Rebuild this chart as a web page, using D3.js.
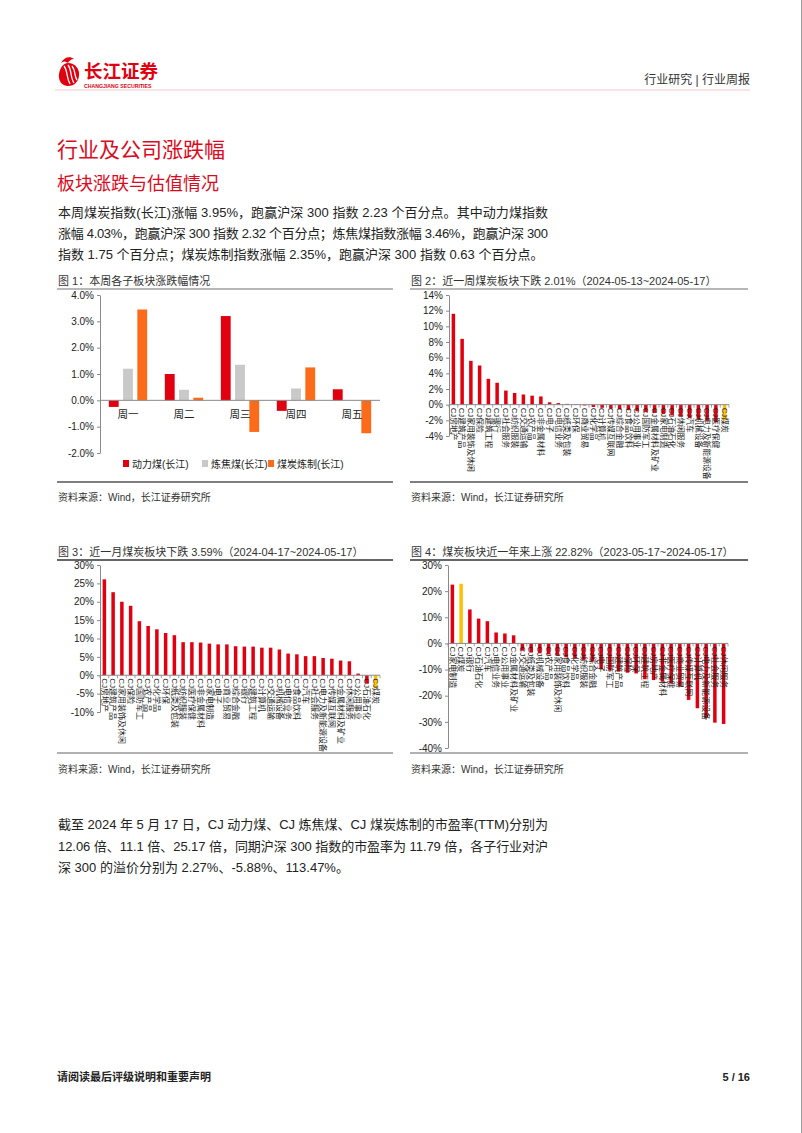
<!DOCTYPE html>
<html><head><meta charset="utf-8">
<script src="https://cdn.jsdelivr.net/npm/d3@7"></script>
<style>
html,body{margin:0;padding:0;background:#fff;}
svg text{font-family:"Liberation Sans",Arial,"Noto Sans CJK SC",sans-serif;}
</style></head><body>
<svg id="page" width="802" height="1133"></svg>
<script>
// ---------------- DATA ----------------
const days = ["周一","周二","周三","周四","周五"];
const seriesNames = ["动力煤(长江)","炼焦煤(长江)","煤炭炼制(长江)"];
const thermalCoal = [-0.25, 1.0, 3.2, -0.4, 0.42];
const cokingCoal = [1.2, 0.4, 1.35, 0.45, 0.0];
const coalRefining = [3.45, 0.1, -1.2, 1.25, -1.25];
const ticks1 = [-2, -1, 0, 1, 2, 3, 4];

const cats2 = ["CJ房地产","CJ建筑产品","CJ家用装饰及休闲","CJ保险","CJ建筑工程","CJ银行","CJ社会服务","CJ纺织服装","CJ交通运输","CJ农产品","CJ非金属材料","CJ电子","CJ电信业务","CJ纸类及包装","CJ环保","CJ商业贸易","CJ化学品","CJ计算机","CJ传媒互联网","CJ综合金融","CJ食品饮料","CJ公用事业","CJ国防军工","CJ金属材料及矿业","CJ家电制造","CJ石油石化","CJ休闲服务","CJ汽车","CJ机械设备","CJ电力及新能源设备","CJ医疗保健","CJ煤炭"];
const vals2 = [11.6, 8.4, 5.6, 5.0, 3.3, 2.8, 1.8, 1.5, 1.3, 1.15, 1.05, 0.3, 0.2, 0.1, 0.05, -0.1, -0.3, -0.4, -0.5, -0.6, -0.7, -0.85, -0.95, -1.05, -1.2, -1.35, -1.5, -1.7, -1.9, -2.05, -2.25, -2.01];
const ticks2 = [-4, -2, 0, 2, 4, 6, 8, 10, 12, 14];

const cats3 = ["CJ房地产","CJ建筑产品","CJ家用装饰及休闲","CJ保险","CJ国防军工","CJ农产品","CJ化学品","CJ环保","CJ纸类及包装","CJ纺织服装","CJ医疗保健","CJ非金属材料","CJ家电制造","CJ电子","CJ商业贸易","CJ综合金融","CJ银行","CJ建筑工程","CJ计算机","CJ交通运输","CJ机械设备","CJ电信业务","CJ食品饮料","CJ汽车","CJ社会服务","CJ电力及新能源设备","CJ传媒互联网","CJ金属材料及矿业","CJ休闲服务","CJ公用事业","CJ石油石化","CJ煤炭"];
const vals3 = [26.1, 22.6, 20.0, 18.9, 14.7, 13.4, 12.5, 11.5, 10.9, 9.0, 9.0, 8.9, 8.6, 8.4, 8.4, 7.9, 7.8, 7.8, 7.5, 7.5, 7.0, 5.9, 5.7, 5.2, 5.2, 4.7, 4.5, 4.0, 3.8, 0.45, -2.3, -3.59];
const ticks3 = [-10, -5, 0, 5, 10, 15, 20, 25, 30];

const cats4 = ["CJ家电制造","CJ煤炭","CJ银行","CJ石油石化","CJ汽车","CJ电信业务","CJ公用事业","CJ金属材料及矿业","CJ交通运输","CJ纸类及包装","CJ机械设备","CJ农产品","CJ家用装饰及休闲","CJ食品饮料","CJ化学品","CJ纺织服装","CJ综合金融","CJ电子","CJ国防军工","CJ建筑产品","CJ保险","CJ环保","CJ建筑工程","CJ房地产","CJ非金属材料","CJ医疗保健","CJ商业贸易","CJ传媒互联网","CJ计算机","CJ电力及新能源设备","CJ社会服务","CJ休闲服务"];
const vals4 = [22.5, 22.82, 13.0, 9.5, 8.5, 4.2, 3.8, 3.1, -2.8, -3.5, -3.8, -4.2, -4.6, -5.3, -5.8, -6.3, -6.9, -9.9, -10.4, -10.8, -11.2, -11.5, -13.7, -14.0, -14.6, -15.3, -16.5, -21.6, -24.8, -28.5, -30.3, -30.8];
const ticks4 = [-40, -30, -20, -10, 0, 10, 20, 30];

const highlightCat = "CJ煤炭";

// ---------------- STYLE ----------------
const RED = "#e1000f", GRAY = "#c9c9c9", ORANGE = "#fb6b1a", GOLD = "#ffc000";
const TITLE_RED = "#dc0a1e";
const svg = d3.select("#page");

function txt(x, y, s, o = {}) {
  const t = svg.append("text").attr("x", x).attr("y", y).text(s)
    .attr("font-size", o.size || 13).attr("fill", o.fill || "#222");
  if (o.weight) t.attr("font-weight", o.weight);
  if (o.anchor) t.attr("text-anchor", o.anchor);
  if (o.len) t.attr("textLength", o.len).attr("lengthAdjust", "spacing");
  if (o.family) t.style("font-family", o.family);
  return t;
}
function line(x1, y1, x2, y2, c, w) {
  svg.append("line").attr("x1", x1).attr("y1", y1).attr("x2", x2).attr("y2", y2)
    .attr("stroke", c).attr("stroke-width", w);
}

// ---------------- HEADER ----------------
const logo = svg.append("g").attr("transform", "translate(58,57)");
logo.append("path").attr("d", "M10,6 C17,6 22,12 21,19 C20,26 15,29 10,29 C4,29 0,24 1,17 C2,11 5,6 10,6 Z").attr("fill", RED);
logo.append("path").attr("d", "M6,9 C10,14 8,20 12,27 M10,8 C14,13 12,20 16,26 M14,9 C18,14 16,19 19,23").attr("stroke", "#fff").attr("stroke-width", 1.3).attr("fill", "none");
logo.append("path").attr("d", "M3,6 C6,0 12,-1 16,2 C13,2 11,4 10,6 C7,4 5,4 3,6 Z").attr("fill", RED);
txt(84, 78, "长江证券", {size: 18.5, fill: RED, weight: 700, family: "'Noto Sans CJK SC',sans-serif"});
txt(84, 87.5, "CHANGJIANG SECURITIES", {size: 5.2, fill: RED, weight: 700});
txt(750, 84, "行业研究 | 行业周报", {size: 12, fill: "#333", anchor: "end"});
line(55, 90, 750, 90, "#f4c9d2", 1.2);
line(801.5, 0, 801.5, 1133, "#9a9a9a", 1);

// ---------------- TITLES & TEXT ----------------
txt(57, 157, "行业及公司涨跌幅", {size: 21, fill: TITLE_RED, family: "'Noto Sans CJK SC',sans-serif"});
txt(57, 190, "板块涨跌与估值情况", {size: 18, fill: TITLE_RED, family: "'Noto Sans CJK SC',sans-serif"});
txt(58, 217, "本周煤炭指数(长江)涨幅 3.95%，跑赢沪深 300 指数 2.23 个百分点。其中动力煤指数", {size: 13, len: 490});
txt(58, 238, "涨幅 4.03%，跑赢沪深 300 指数 2.32 个百分点；炼焦煤指数涨幅 3.46%，跑赢沪深 300", {size: 13, len: 490});
txt(58, 259, "指数 1.75 个百分点；煤炭炼制指数涨幅 2.35%，跑赢沪深 300 指数 0.63 个百分点。", {size: 13});

txt(58, 829, "截至 2024 年 5 月 17 日，CJ 动力煤、CJ 炼焦煤、CJ 煤炭炼制的市盈率(TTM)分别为", {size: 13, len: 490});
txt(58, 851, "12.06 倍、11.1 倍、25.17 倍，同期沪深 300 指数的市盈率为 11.79 倍，各子行业对沪", {size: 13, len: 490});
txt(58, 872, "深 300 的溢价分别为 2.27%、-5.88%、113.47%。", {size: 13});

txt(57, 1081, "请阅读最后评级说明和重要声明", {size: 11, fill: "#222", weight: 700});
txt(750, 1081, "5 / 16", {size: 11, fill: "#222", weight: 700, anchor: "end"});

// chart frames
txt(58, 285, "图 1：本周各子板块涨跌幅情况", {size: 11, fill: "#333"});
line(57, 289, 393, 289, "#a0a0a0", 1.5);
line(57, 482, 393, 482, "#555", 1.5);
txt(58, 501, "资料来源：Wind，长江证券研究所", {size: 10, fill: "#333"});

txt(411, 285, "图 2：近一周煤炭板块下跌 2.01%（2024-05-13~2024-05-17）", {size: 11, fill: "#333"});
line(410, 289, 748, 289, "#a0a0a0", 1.5);
line(410, 482, 748, 482, "#555", 1.5);
txt(411, 501, "资料来源：Wind，长江证券研究所", {size: 10, fill: "#333"});

txt(58, 556, "图 3：近一月煤炭板块下跌 3.59%（2024-04-17~2024-05-17）", {size: 11, fill: "#333"});
line(57, 560, 393, 560, "#333", 1.5);
line(57, 753, 393, 753, "#999", 1.5);
txt(58, 773, "资料来源：Wind，长江证券研究所", {size: 10, fill: "#333"});

txt(411, 556, "图 4：煤炭板块近一年来上涨 22.82%（2023-05-17~2024-05-17）", {size: 11, fill: "#333"});
line(410, 560, 748, 560, "#333", 1.5);
line(410, 753, 748, 753, "#999", 1.5);
txt(411, 773, "资料来源：Wind，长江证券研究所", {size: 10, fill: "#333"});

// ---------------- AXIS HELPER ----------------
function yAxis(g, y, x0, ticks, fmt) {
  const ax = g.append("g").attr("transform", `translate(${x0},0)`)
    .call(d3.axisLeft(y).tickValues(ticks).tickFormat(fmt).tickSize(3).tickSizeOuter(0));
  ax.select(".domain").attr("stroke", "#8a8a8a");
  ax.selectAll(".tick line").attr("stroke", "#8a8a8a");
  ax.selectAll(".tick text").attr("font-size", 10).attr("fill", "#222")
    .style("font-family", "'Liberation Sans',Arial,sans-serif").attr("x", -6);
}

// ---------------- CHART 1 ----------------
(function () {
  const g = svg.append("g");
  const y = d3.scaleLinear().domain([-2, 4]).range([453, 295]);
  const x0 = d3.scaleBand().domain(days).range([100, 380]);
  const x1 = d3.scaleBand().domain(seriesNames).range([0, x0.bandwidth()]).paddingInner(0.31).paddingOuter(0.62);
  const color = d3.scaleOrdinal().domain(seriesNames).range([RED, GRAY, ORANGE]);
  const series = [thermalCoal, cokingCoal, coalRefining];
  const rows = [];
  days.forEach((d, i) => seriesNames.forEach((s, j) => rows.push({day: d, s, v: series[j][i]})));
  g.selectAll("rect").data(rows).enter().append("rect")
    .attr("x", d => x0(d.day) + x1(d.s))
    .attr("width", x1.bandwidth())
    .attr("y", d => y(Math.max(0, d.v)))
    .attr("height", d => Math.abs(y(d.v) - y(0)))
    .attr("fill", d => color(d.s));
  yAxis(g, y, 100, ticks1, d => d.toFixed(1) + "%");
  line(100, y(0), 380, y(0), "#8a8a8a", 1);
  g.selectAll(".cat").data(days).enter().append("text")
    .attr("x", d => x0(d) + x0.bandwidth() / 2).attr("y", y(0) + 18)
    .attr("text-anchor", "middle").attr("font-size", 10.5).attr("fill", "#222").text(d => d);
  // legend
  const lx = [123, 202, 268];
  const lg = g.selectAll(".lg").data(seriesNames).enter().append("g")
    .attr("transform", (d, i) => `translate(${lx[i]},464)`);
  lg.append("rect").attr("x", 0).attr("y", -4).attr("width", 6).attr("height", 7).attr("fill", d => color(d));
  lg.append("text").attr("x", 9).attr("y", 3.5).attr("font-size", 10).attr("fill", "#222").text(d => d);
})();

// ---------------- SINGLE-SERIES CHART ----------------
function sectorChart(cats, vals, ticks, dom, xr, yr, labelSize) {
  const g = svg.append("g");
  const y = d3.scaleLinear().domain(dom).range(yr);
  const x = d3.scaleBand().domain(cats).range(xr).paddingInner(0.6).paddingOuter(0.3);
  const data = cats.map((c, i) => ({c, v: vals[i]}));
  g.selectAll("rect").data(data).enter().append("rect")
    .attr("x", d => x(d.c)).attr("width", x.bandwidth())
    .attr("y", d => y(Math.max(0, d.v)))
    .attr("height", d => Math.abs(y(d.v) - y(0)))
    .attr("fill", d => d.c === highlightCat ? GOLD : RED);
  yAxis(g, y, xr[0], ticks, d => d + "%");
  const y0 = y(0);
  line(xr[0], y0, xr[1], y0, "#8a8a8a", 1);
  g.selectAll(".xt").data(d3.range(cats.length + 1)).enter().append("line")
    .attr("x1", i => xr[0] + i * (xr[1] - xr[0]) / cats.length)
    .attr("x2", i => xr[0] + i * (xr[1] - xr[0]) / cats.length)
    .attr("y1", y0).attr("y2", y0 + 3).attr("stroke", "#8a8a8a").attr("stroke-width", 0.8);
  g.selectAll(".lab").data(cats).enter().append("text")
    .attr("transform", d => `translate(${x(d) + x.bandwidth() / 2},${y0 + 3}) rotate(90)`)
    .attr("dy", "0.35em").attr("font-size", labelSize).attr("fill", "#222")
    .style("font-family", "'Liberation Sans',Arial,'Noto Sans CJK SC',sans-serif")
    .text(d => d);
}
sectorChart(cats2, vals2, ticks2, [-4, 14], [449, 729], [436, 295], 7.8);
sectorChart(cats3, vals3, ticks3, [-10, 30], [100, 380], [712, 565], 8);
sectorChart(cats4, vals4, ticks4, [-40, 30], [448, 728], [748, 565], 8);
</script>
</body></html>
